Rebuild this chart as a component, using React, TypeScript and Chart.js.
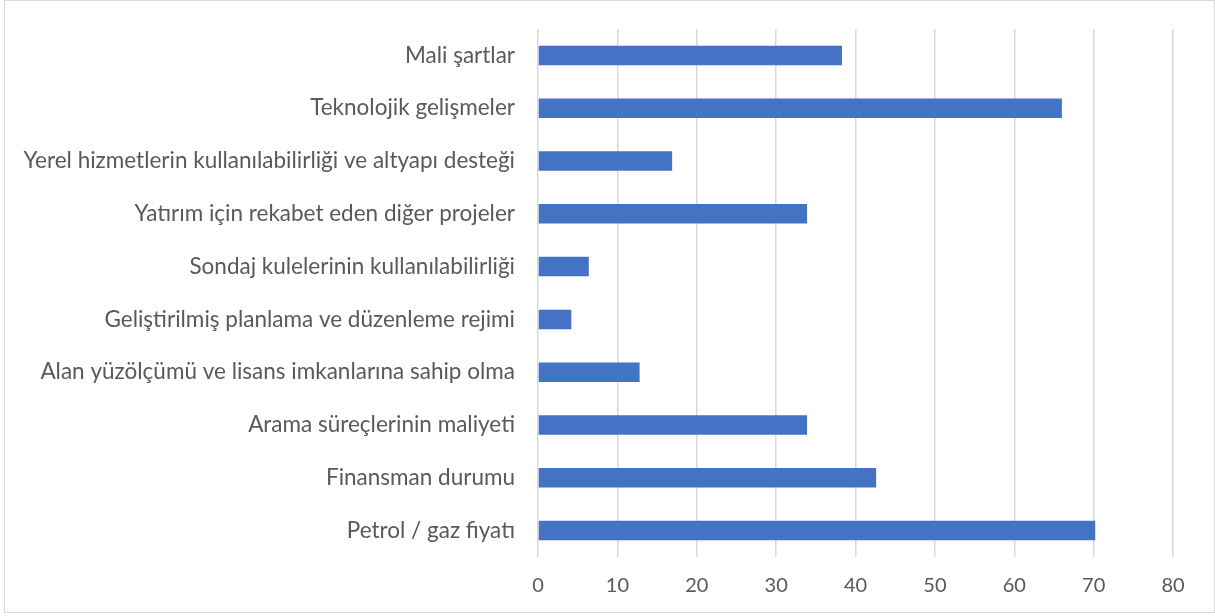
import React, { useEffect, useRef } from "react";
import { Chart, registerables } from "chart.js";

Chart.register(...registerables);

const categories = [
  "Mali şartlar",
  "Teknolojik gelişmeler",
  "Yerel hizmetlerin kullanılabilirliği ve altyapı desteği",
  "Yatırım için rekabet eden diğer projeler",
  "Sondaj kulelerinin kullanılabilirliği",
  "Geliştirilmiş planlama ve düzenleme rejimi",
  "Alan yüzölçümü ve lisans imkanlarına sahip olma",
  "Arama süreçlerinin maliyeti",
  "Finansman durumu",
  "Petrol / gaz fiyatı",
];
const values = [38.3, 66.0, 16.9, 33.9, 6.4, 4.2, 12.8, 33.9, 42.6, 70.2];
const xMin = 0;
const xMax = 80;
const xStep = 10;

const FONT = "Lato, 'Open Sans', sans-serif";
const TEXT = "#595959";

export default function App() {
  const ref = useRef<HTMLCanvasElement | null>(null);
  useEffect(() => {
    document.body.style.margin = "0";
    if (!ref.current) return;
    const chart = new Chart(ref.current, {
      type: "bar",
      data: {
        labels: categories,
        datasets: [
          {
            data: values,
            backgroundColor: "#4472C4",
            borderWidth: 0,
            barPercentage: 0.37,
            categoryPercentage: 1,
          },
        ],
      },
      options: {
        indexAxis: "y",
        animation: false,
        responsive: false,
        maintainAspectRatio: false,
        layout: { padding: { top: 29, right: 42, bottom: 0, left: 0 } },
        plugins: { legend: { display: false }, tooltip: { enabled: false } },
        scales: {
          x: {
            min: xMin,
            max: xMax,
            ticks: {
              stepSize: xStep,
              color: TEXT,
              font: { family: FONT, size: 20 },
              padding: 17,
            },
            grid: { color: "#d9d9d9", lineWidth: 1.5, tickLength: 0 },
            border: { display: false },
            afterFit: (s: any) => {
              s.height = 616 - 557;
            },
          },
          y: {
            ticks: {
              color: TEXT,
              font: { family: FONT, size: 22.5 },
              padding: 23,
              autoSkip: false,
            },
            grid: { display: false, drawTicks: false },
            border: { display: false },
            afterFit: (s: any) => {
              s.width = 538;
              s.paddingTop = 0;
              s.paddingBottom = 0;
            },
          },
        },
      },
    });
    return () => chart.destroy();
  }, []);
  return (
    <div style={{ position: "fixed", left: 0, top: 0, width: 1215, height: 616, background: "#fff" }}>
      <canvas ref={ref} width={1215} height={616} style={{ position: "absolute", left: 0, top: 0 }} />
      <div
        style={{
          position: "absolute",
          left: 4,
          top: 0,
          width: 1209,
          height: 611,
          border: "1px solid #d9d9d9",
          pointerEvents: "none",
        }}
      />
    </div>
  );
}
